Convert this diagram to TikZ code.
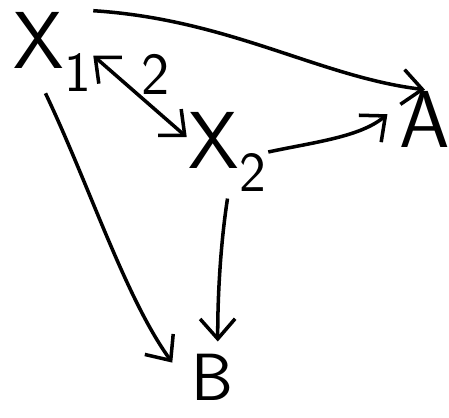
\documentclass[tikz,border=0pt]{standalone}
\usepackage{fontspec}
\usepackage{tikz}
\usetikzlibrary{arrows.meta}

\begin{document}
\begin{tikzpicture}[font=\sffamily\fontsize{46}{48}\selectfont, line width=2pt,
    >={Straight Barb[length=4mm, width=7mm, line width=2pt]},
    var/.style={inner sep=0pt},
    wlabel/.style={font=\sffamily\fontsize{34}{36}\selectfont, inner sep=2pt}]
  \useasboundingbox (0,0) rectangle (8.98,8.34);
  % variables
  \node[var] (X1) at (1.05,7.3) {X\textsubscript{1}};
  \node[var] (X2) at (4.55,5.3) {X\textsubscript{2}};
  \node[var] (A) at (8.5,5.95) {A};
  \node[var, font=\sffamily\fontsize{38}{40}\selectfont] (B) at (4.25,0.8) {B};
  % X1 to A, long curve over the top
  \draw[->] (X1.north east) .. controls (4.6,7.95) and (6.4,6.8) .. (A.north);
  % X1 and X2, both ways, weight 2
  \draw[<->] (X1.-5) -- node[wlabel, above right=-2pt] (w) {2} (X2.160);
  % X2 to A
  \draw[->] (X2.east) .. controls (6.3,5.5) and (7.2,5.6) .. ([xshift=-6pt,yshift=3pt]A.west);
  % down to B
  \draw[->] ([xshift=-4pt]X1.south) .. controls (1.8,4.6) and (2.5,2.4) .. ([xshift=-10pt,yshift=-6pt]B.north west);
  \draw[->] ([yshift=-3pt]X2.south) .. controls (4.4,3.4) and (4.35,2.3) .. ([xshift=3pt,yshift=6pt]B.north);
\end{tikzpicture}
\end{document}
